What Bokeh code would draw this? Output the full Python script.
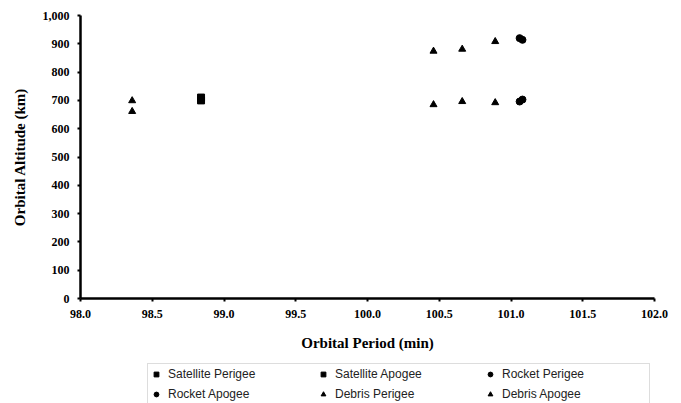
from bokeh.plotting import figure
from bokeh.layouts import column
from bokeh.models import FixedTicker, NumeralTickFormatter, Legend, LegendItem, Range1d
from bokeh.embed import file_html
from bokeh.resources import INLINE

# Data
sat_period = [98.84]
sat_perigee = [700]
sat_apogee = [710]

rocket_period = [101.06, 101.08]
rocket_perigee = [696, 703]
rocket_apogee = [920, 914]

debris_period = [98.36, 100.46, 100.66, 100.89]
debris_perigee = [661, 685, 696, 692]
debris_apogee = [699, 874, 881, 908]

series_labels = ["Satellite Perigee", "Satellite Apogee", "Rocket Perigee",
                 "Rocket Apogee", "Debris Perigee", "Debris Apogee"]
series_markers = ["square", "square", "circle", "circle", "triangle", "triangle"]
series_x = [sat_period, sat_period, rocket_period, rocket_period, debris_period, debris_period]
series_y = [sat_perigee, sat_apogee, rocket_perigee, rocket_apogee, debris_perigee, debris_apogee]

x_ticks = [98.0, 98.5, 99.0, 99.5, 100.0, 100.5, 101.0, 101.5, 102.0]
y_ticks = [0, 100, 200, 300, 400, 500, 600, 700, 800, 900, 1000]

p = figure(width=681, height=363, output_backend="svg", toolbar_location=None,
           x_range=Range1d(98.0, 102.0), y_range=Range1d(0, 1000),
           min_border_left=80, min_border_right=27, min_border_top=15, min_border_bottom=65)
p.outline_line_color = None
p.grid.visible = False
p.background_fill_color = "white"
p.border_fill_color = "white"

serif = "Liberation Serif"
for ax in (p.xaxis[0], p.yaxis[0]):
    ax.axis_line_width = 2.5
    ax.axis_line_color = "black"
    ax.major_tick_line_color = "black"
    ax.major_tick_line_width = 2
    ax.major_tick_out = 3
    ax.major_tick_in = 0
    ax.minor_tick_line_color = None
    ax.major_label_text_font = serif
    ax.major_label_text_font_style = "bold"
    ax.major_label_text_font_size = "12px"
    ax.major_label_text_color = "black"
    ax.axis_label_text_font = serif
    ax.axis_label_text_font_style = "bold"
    ax.axis_label_text_font_size = "15px"
    ax.axis_label_text_color = "black"

p.xaxis[0].ticker = FixedTicker(ticks=x_ticks)
p.xaxis[0].formatter = NumeralTickFormatter(format="0.0")
p.xaxis[0].axis_label = "Orbital Period (min)"
p.xaxis[0].major_label_standoff = 8
p.xaxis[0].axis_label_standoff = 14
p.yaxis[0].ticker = FixedTicker(ticks=y_ticks)
p.yaxis[0].formatter = NumeralTickFormatter(format="0,0")
p.yaxis[0].axis_label = "Orbital Altitude (km)"
p.yaxis[0].major_label_standoff = 8
p.yaxis[0].axis_label_standoff = 12

for xs, ys, mk in zip(series_x, series_y, series_markers):
    p.scatter(xs, ys, marker=mk, size=7, color="black")

# Legend strip below the chart: the same series, drawn out of this strip's view,
# used only as legend entries.
p2 = figure(width=681, height=40, output_backend="svg", toolbar_location=None,
            x_axis_type=None, y_axis_type=None,
            x_range=p.x_range, y_range=Range1d(0, 1),
            min_border_left=80, min_border_right=27, min_border_top=0, min_border_bottom=0)
p2.grid.visible = False
p2.outline_line_color = None
p2.border_fill_color = "white"
p2.background_fill_color = "white"

items = []
for lab, mk, xs, ys in zip(series_labels, series_markers, series_x, series_y):
    r = p2.scatter(xs, ys, marker=mk, size=7, color="black")
    items.append(LegendItem(label=lab, renderers=[r]))

lg = Legend(items=items, orientation="horizontal", nrows=2)
lg.location = (67, -2)
lg.label_text_font = "Liberation Sans"
lg.label_text_font_size = "12px"
lg.label_text_color = "#222222"
lg.label_width = 145
lg.label_height = 16
lg.glyph_width = 12
lg.glyph_height = 16
lg.label_standoff = 6
lg.spacing = 4
lg.padding = 2
lg.margin = 0
lg.border_line_color = "#bbbbbb"
lg.border_line_width = 1
lg.background_fill_color = "white"
lg.background_fill_alpha = 1
p2.add_layout(lg, "center")

open("out.html", "w").write(file_html(column(p, p2, spacing=0), INLINE))
